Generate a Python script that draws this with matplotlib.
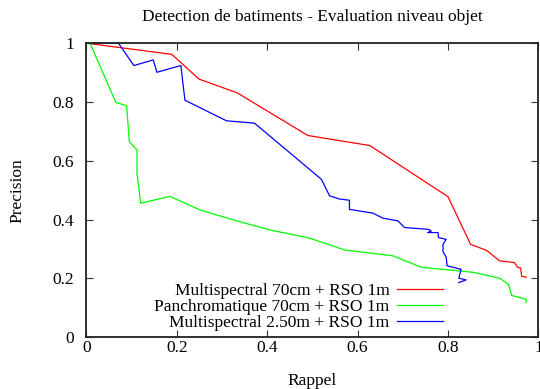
import matplotlib
matplotlib.use("Agg")
import matplotlib.pyplot as plt

plt.rcParams['font.family'] = ['Liberation Serif', 'DejaVu Serif']

# Multispectral 70cm + RSO 1m
ms70_rappel = [0.0, 0.189, 0.249, 0.334, 0.490, 0.627, 0.800, 0.850, 0.886, 0.914,
               0.947, 0.954, 0.961, 0.963, 0.969, 0.973]
ms70_precision = [1.0, 0.962, 0.878, 0.831, 0.686, 0.652, 0.478, 0.316, 0.295, 0.260,
                  0.254, 0.238, 0.235, 0.207, 0.206, 0.204]

# Panchromatique 70cm + RSO 1m
pan_rappel = [0.008, 0.065, 0.089, 0.095, 0.112, 0.112, 0.120, 0.185, 0.251, 0.332,
              0.406, 0.494, 0.571, 0.678, 0.741, 0.855, 0.914, 0.934, 0.941, 0.973, 0.973]
pan_precision = [1.0, 0.799, 0.787, 0.665, 0.637, 0.558, 0.456, 0.479, 0.433, 0.396,
                 0.365, 0.337, 0.297, 0.277, 0.238, 0.221, 0.201, 0.180, 0.142, 0.129, 0.118]

# Multispectral 2.50m + RSO 1m
ms250_rappel = [0.0, 0.071, 0.105, 0.148, 0.156, 0.209, 0.218, 0.310, 0.372, 0.520,
                0.538, 0.560, 0.582, 0.582, 0.634, 0.656, 0.689, 0.704, 0.757, 0.763,
                0.755, 0.778, 0.779, 0.796, 0.789, 0.789, 0.796, 0.798, 0.829, 0.824,
                0.840, 0.824]
ms250_precision = [1.0, 1.0, 0.924, 0.943, 0.901, 0.924, 0.806, 0.736, 0.728, 0.537,
                   0.481, 0.470, 0.466, 0.435, 0.422, 0.405, 0.396, 0.373, 0.367, 0.361,
                   0.356, 0.356, 0.339, 0.333, 0.316, 0.291, 0.272, 0.243, 0.231, 0.201,
                   0.195, 0.186]

fig = plt.figure(figsize=(5.4, 3.89), dpi=100)
ax = fig.add_axes([0.160, 0.133, 0.837, 0.756])

lw = 0.9
ax.plot(ms70_rappel, ms70_precision, color='#ff0000', lw=lw, label='Multispectral 70cm + RSO 1m')
ax.plot(pan_rappel, pan_precision, color='#00ff00', lw=lw, label='Panchromatique 70cm + RSO 1m')
ax.plot(ms250_rappel, ms250_precision, color='#0000ff', lw=lw, label='Multispectral 2.50m + RSO 1m')

ax.set_xlim(0, 1)
ax.set_ylim(0, 1)
ticks = [0, 0.2, 0.4, 0.6, 0.8, 1]
ticklabels = ['0', '0.2', '0.4', '0.6', '0.8', '1']
ax.set_xticks(ticks)
ax.set_xticklabels(ticklabels)
ax.set_yticks(ticks)
ax.set_yticklabels(ticklabels)
ax.tick_params(direction='in', top=True, right=True, length=5, width=0.8,
               labelsize=12.5, color='#333333')
ax.tick_params(axis='x', pad=2)
ax.tick_params(axis='y', pad=9)
for s in ax.spines.values():
    s.set_linewidth(1.3)
    s.set_color('#222222')

ax.set_title('Detection de batiments - Evaluation niveau objet', fontsize=12.5, pad=16)
ax.set_xlabel('Rappel', fontsize=12.5, labelpad=12)
ax.set_ylabel('Precision', fontsize=12.5, labelpad=19)

ax.legend(loc='lower right', bbox_to_anchor=(0.797, 0.008), frameon=False,
          markerfirst=False, fontsize=12.5, handlelength=2.65, handletextpad=0.45,
          labelspacing=0.0, borderpad=0.2, borderaxespad=0)

fig.savefig('out.png', dpi=100)
